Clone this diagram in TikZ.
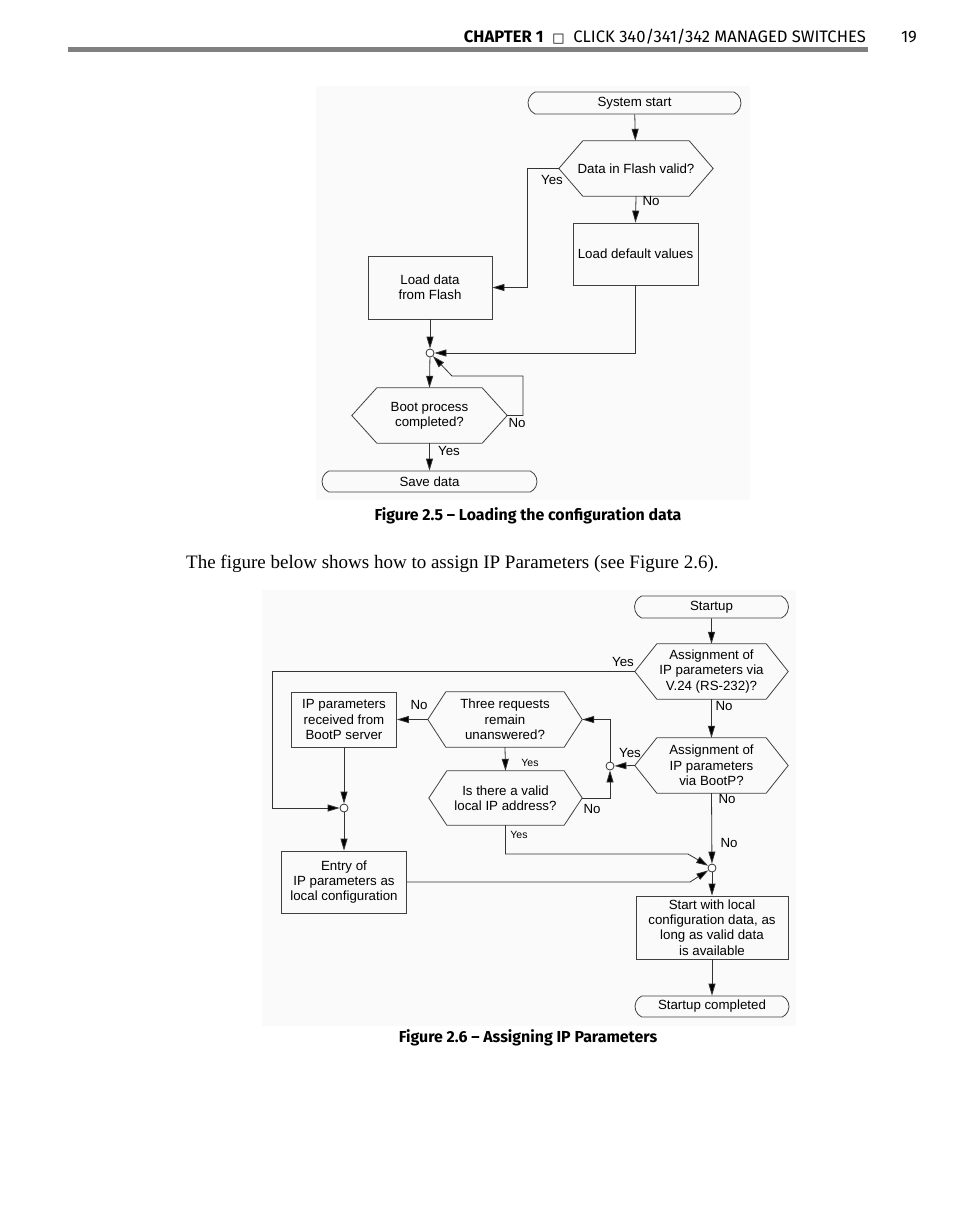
\documentclass[tikz,border=0pt]{standalone}
\usepackage{fontspec}
\usetikzlibrary{arrows.meta,shapes.misc,positioning}
\newfontfamily\diagfont{Liberation Sans}
\newfontfamily\headfont{Fira Sans}
\newfontfamily\bodyfont{Liberation Serif}
\newfontfamily\symfont{DejaVu Sans}
% hexagon outline round a named node: name, point depth
\newcommand{\hexoutline}[2]{%
  \draw[boxline] (#1.west) -- ([xshift=#2]#1.north west) -- ([xshift=-#2]#1.north east)
    -- (#1.east) -- ([xshift=-#2]#1.south east) -- ([xshift=#2]#1.south west) -- cycle;}
\tikzset{
  boxline/.style={draw=black!75, line width=0.8pt},
  flow/.style={draw=black!80, line width=0.8pt, -{Triangle[length=12pt,width=7pt,fill=black]}},
  diagtext/.style={font=\diagfont\fontsize{13.3}{15.4}\selectfont},
  procbox/.style={boxline, rectangle, inner sep=2pt, align=center, diagtext},
  hexbox/.style={rectangle, inner sep=0pt, align=center, diagtext},
  termbox/.style={boxline, rounded rectangle, rounded rectangle arc length=130, inner sep=0pt, diagtext},
  junction/.style={circle, draw=black!80, fill=white, line width=0.8pt, minimum size=8pt, inner sep=0pt},
  lbl/.style={diagtext, inner sep=0pt},
  smalllbl/.style={font=\diagfont\fontsize{10.5}{12}\selectfont, inner sep=0pt},
  captext/.style={font=\headfont\bfseries\fontsize{15.9}{19}\selectfont},
}
\begin{document}
\begin{tikzpicture}[x=1pt,y=-1pt]
\useasboundingbox (0,0) rectangle (954,1227);
\fill[white] (0,0) rectangle (954,1227);

% page header
\fill[black!50] (68,47) rectangle (868,52);
\node[anchor=base east, font=\headfont\fontsize{16.6}{19}\selectfont, inner sep=0pt] (header) at (866,42)
  {{\bfseries CHAPTER 1}\ \ {\symfont\fontsize{13}{13}\selectfont □}\ \ CLICK 340/341/342 MANAGED SWITCHES};
\node[anchor=base, font=\headfont\fontsize{16.6}{19}\selectfont, inner sep=0pt] (pageno) at (909,42) {19};

% figure 2.5
\fill[black!2] (316,86) rectangle (750,500);
\node[termbox, minimum width=213pt, minimum height=22pt] (sysstart) at (634.5,103) {System start};
\node[hexbox, minimum width=154pt, minimum height=55pt] (flashok) at (636,168.5) {Data in Flash valid?};
\hexoutline{flashok}{24}
\node[procbox, minimum width=125pt, minimum height=62pt] (loaddef) at (635.5,254) {Load default values};
\node[procbox, minimum width=124pt, minimum height=63pt] (loadflash) at (430,287.5) {Load data\\from Flash};
\node[junction] (jnflow) at (430,353) {};
\node[hexbox, minimum width=155pt, minimum height=55pt] (bootdone) at (429.5,415.5) {Boot process\\completed?};
\hexoutline{bootdone}{25}
\node[termbox, minimum width=215pt, minimum height=21pt] (savedata) at (429.5,481.5) {Save data};

\coordinate (yesbend) at (527,168.5);
\coordinate (loopup) at (523,376);
\coordinate (loopin) at (452,376);
\draw[flow] (sysstart) -- (flashok);
\draw[flow] (flashok.west) -- (yesbend) |- (loadflash.east);
\draw[flow] (flashok.south) -- (loaddef.north);
\draw[flow] (loaddef.south) |- (jnflow);
\draw[flow] (loadflash.south) -- (jnflow);
\draw[flow] (jnflow) -- (bootdone.north);
\draw[flow] (bootdone.east) -| (loopup) -- (loopin) -- (jnflow);
\draw[flow] (bootdone.south) -- (savedata.north);
\node[lbl] (yesflash) at (552,180) {Yes};
\node[lbl] (noflash) at (651,201) {No};
\node[lbl] (noboot) at (517,423) {No};
\node[lbl] (yesboot) at (449,451) {Yes};

\node[captext] (capfirst) at (528,516) {Figure 2.5 – Loading the configuration data};

\node[anchor=base west, font=\bodyfont\fontsize{19}{22}\selectfont, inner sep=0pt] (bodytext) at (186,568)
  {The figure below shows how to assign IP Parameters (see Figure 2.6).};

% figure 2.6
\fill[black!2] (262,590) rectangle (796,1026);
\node[termbox, minimum width=154pt, minimum height=22pt] (startup) at (711.5,607) {Startup};
\node[hexbox, minimum width=153pt, minimum height=55pt] (viaserial) at (711.5,671.5) {Assignment of\\IP parameters via\\V.24 (RS-232)?};
\hexoutline{viaserial}{22}
\node[hexbox, minimum width=153pt, minimum height=55pt] (viabootp) at (711.5,765.5) {Assignment of\\IP parameters\\via BootP?};
\hexoutline{viabootp}{22}
\node[hexbox, minimum width=154pt, minimum height=55pt] (threereq) at (505,719.5) {Three requests\\remain\\unanswered?};
\hexoutline{threereq}{18}
\node[hexbox, minimum width=153pt, minimum height=54pt] (validip) at (505.5,798) {Is there a valid\\local IP address?};
\hexoutline{validip}{18}
\node[procbox, minimum width=105pt, minimum height=55pt] (bootpbox) at (344,719.5) {IP parameters\\received from\\BootP server};
\node[procbox, minimum width=125pt, minimum height=62pt] (entry) at (344,882) {Entry of\\IP parameters as\\local configuration};
\node[procbox, minimum width=152pt, minimum height=63pt] (startlocal) at (712,927.5) {Start with local\\configuration data, as\\long as valid data\\is available};
\node[termbox, minimum width=154pt, minimum height=21pt] (startdone) at (712,1006.5) {Startup completed};
\node[junction] (jnleft) at (344,808) {};
\node[junction] (jnmid) at (610,766) {};
\node[junction] (jnright) at (712,868) {};

\coordinate (serialbend) at (272,808);
\coordinate (yesjoin) at (688,854);
\coordinate (entryjoin) at (690,882);
\draw[flow] (startup) -- (viaserial);
\draw[flow] (viaserial.west) -| (serialbend) -- (jnleft);
\draw[flow] (viaserial.south) -- (viabootp.north);
\draw[flow] (viabootp.west) -- (jnmid);
\draw[flow] (jnmid.north) |- (threereq.east);
\draw[flow] (validip.east) -| (jnmid.south);
\draw[flow] (threereq.west) -- (bootpbox.east);
\draw[flow] (threereq.south) -- (validip.north);
\draw[flow] (bootpbox.south) -- (jnleft);
\draw[flow] (jnleft) -- (entry.north);
\draw[flow] (validip.south) |- (yesjoin) -- (jnright);
\draw[flow] (entry.east) -- (entryjoin) -- (jnright);
\draw[flow] (viabootp.south) -- (jnright);
\draw[flow] (jnright) -- (startlocal.north);
\draw[flow] (startlocal.south) -- (startdone.north);
\node[lbl] (yesserial) at (623,662) {Yes};
\node[lbl] (noserial) at (724,706) {No};
\node[lbl] (yesbootp) at (630,753) {Yes};
\node[lbl] (nobootp) at (727,799) {No};
\node[lbl] (nobootpb) at (729,843) {No};
\node[lbl] (noreq) at (419,705) {No};
\node[smalllbl] (yesreq) at (530,763) {Yes};
\node[lbl] (novalid) at (592,809) {No};
\node[smalllbl] (yesvalid) at (519,835) {Yes};

\node[captext] (capsecond) at (528,1038) {Figure 2.6 – Assigning IP Parameters};
\end{tikzpicture}
\end{document}
